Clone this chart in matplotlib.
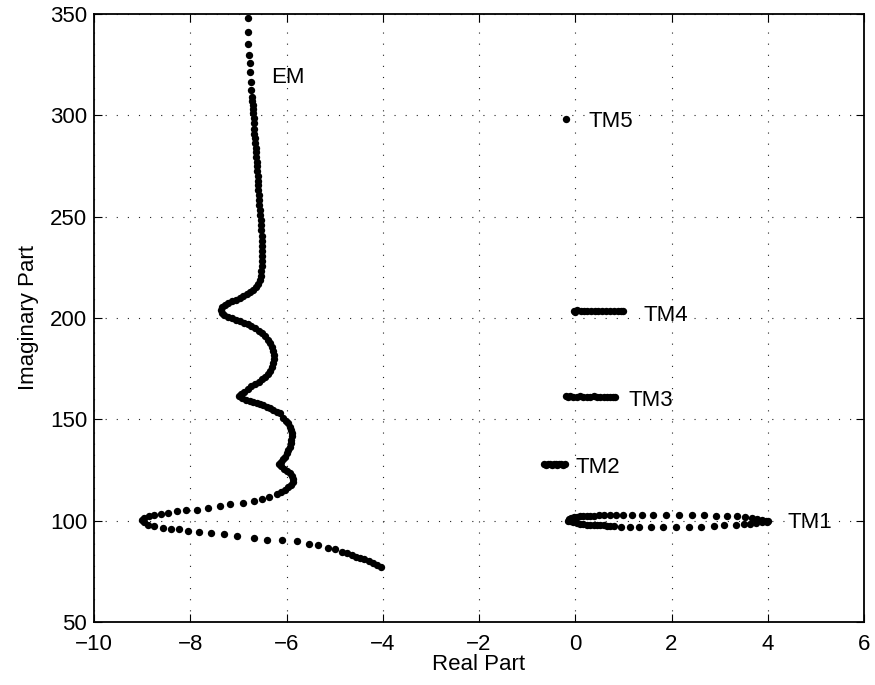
import matplotlib
matplotlib.use("Agg")
import matplotlib.pyplot as plt

plt.rcParams['font.family'] = ['Liberation Sans', 'DejaVu Sans']

# EM mode trajectory (real part, imaginary part)
em_re = [
    -4.04, -4.12, -4.21, -4.29, -4.40, -4.47, -4.55, -4.64, -4.75, -4.85,
    -4.99, -5.13, -5.35, -5.54, -5.79, -6.09, -6.40, -6.68, -7.02, -7.30,
    -7.57, -7.82, -8.05, -8.23, -8.41, -8.57, -8.75, -8.87, -8.97, -9.00,
    -8.96, -8.86, -8.75, -8.61, -8.46, -8.27, -8.09, -7.87, -7.64, -7.39,
    -7.17, -6.90, -6.68, -6.51, -6.36, -6.20, -6.11, -6.03, -5.96, -5.90,
    -5.87, -5.86, -5.88, -5.93, -5.99, -6.06, -6.12, -6.15, -6.12, -6.07,
    -6.03, -5.99, -5.96, -5.93, -5.91, -5.90, -5.89, -5.89, -5.90, -5.92,
    -5.96, -6.01, -6.07, -6.13, -6.20, -6.28, -6.35, -6.41, -6.48, -6.55,
    -6.62, -6.69, -6.76, -6.84, -6.92, -6.99, -6.95, -6.88, -6.81, -6.74,
    -6.66, -6.58, -6.50, -6.44, -6.39, -6.34, -6.31, -6.28, -6.27, -6.27,
    -6.28, -6.30, -6.34, -6.39, -6.44, -6.50, -6.57, -6.65, -6.73, -6.81,
    -6.89, -6.97, -7.05, -7.13, -7.21, -7.29, -7.35, -7.37, -7.34, -7.28,
    -7.21, -7.13, -7.05, -6.97, -6.90, -6.82, -6.75, -6.69, -6.64, -6.60,
    -6.56, -6.54, -6.52, -6.51, -6.51, -6.51, -6.51, -6.51, -6.51, -6.51,
    -6.52, -6.53, -6.53, -6.55, -6.55, -6.57, -6.58, -6.58, -6.59, -6.59,
    -6.60, -6.60, -6.61, -6.62, -6.62, -6.63, -6.64, -6.64, -6.65, -6.66,
    -6.67, -6.68, -6.68, -6.68, -6.69, -6.70, -6.70, -6.71, -6.72, -6.73,
    -6.73, -6.76, -6.76, -6.77, -6.80, -6.80, -6.80,
]
em_im = [
    77.0, 78.1, 79.3, 80.3, 81.2, 81.7, 81.9, 83.1, 83.9, 84.7,
    85.9, 86.7, 87.8, 88.6, 89.8, 90.5, 90.5, 91.3, 92.3, 93.3,
    94.1, 94.2, 94.9, 95.7, 95.7, 96.5, 97.4, 98.0, 99.5, 100.3,
    101.3, 102.3, 102.9, 103.1, 103.9, 104.6, 105.4, 105.4, 106.2, 107.2,
    108.1, 108.9, 109.7, 110.5, 111.5, 113.3, 114.3, 115.1, 116.4, 117.7,
    119.2, 120.5, 122.0, 123.3, 124.5, 125.7, 126.9, 127.9, 129.0, 130.3,
    131.6, 133.2, 134.8, 136.5, 138.3, 140.0, 141.6, 143.1, 144.7, 146.3,
    148.0, 149.4, 150.8, 153.0, 153.8, 154.6, 155.4, 156.2, 156.9, 157.6,
    158.2, 158.7, 159.2, 159.7, 160.3, 161.3, 162.5, 163.7, 165.0, 166.3,
    167.5, 168.6, 169.7, 170.8, 172.3, 174.0, 175.9, 177.9, 179.9, 181.9,
    183.8, 185.7, 187.5, 189.3, 191.0, 192.5, 193.8, 194.9, 195.9, 196.8,
    197.6, 198.4, 199.1, 199.8, 200.6, 201.5, 202.6, 203.9, 205.2, 206.4,
    207.3, 208.2, 209.0, 209.9, 210.8, 211.8, 212.9, 214.0, 215.3, 216.8,
    218.7, 220.8, 223.2, 225.7, 228.2, 230.7, 233.2, 235.7, 238.2, 240.7,
    243.2, 245.7, 248.3, 250.8, 253.3, 255.8, 258.3, 260.8, 263.3, 265.5,
    267.8, 270.2, 272.5, 274.8, 277.1, 279.4, 281.7, 284.0, 286.3, 288.6,
    291.0, 293.5, 296.0, 298.5, 301.0, 303.2, 305.1, 307.2, 309.2, 312.5,
    316.5, 321.2, 325.6, 329.7, 335.0, 340.9, 347.8,
]

# TM1 loop
tm1_re = [
    -0.15, -0.12, -0.08, -0.03, 0.03, 0.10, 0.17, 0.24, 0.31, 0.39,
    0.49, 0.60, 0.73, 0.85, 0.99, 1.18, 1.39, 1.61, 1.89, 2.16,
    2.43, 2.67, 2.92, 3.15, 3.36, 3.53, 3.67, 3.78, 3.88, 3.97, 4.00,
    3.99, 3.88, 3.76, 3.64, 3.50, 3.33, 3.10, 2.88, 2.61, 2.36,
    2.09, 1.82, 1.57, 1.32, 1.13, 0.95, 0.80, 0.73, 0.66, 0.59,
    0.52, 0.45, 0.38, 0.31, 0.24, 0.17, 0.10, 0.03, -0.04, -0.10,
]
tm1_im = [
    100.0, 100.6, 101.2, 101.6, 101.9, 102.1, 102.2, 102.3, 102.4, 102.5,
    102.6, 102.6, 102.6, 102.6, 102.6, 102.6, 102.6, 102.6, 102.6, 102.6,
    102.6, 102.6, 102.5, 102.5, 102.3, 101.7, 101.2, 100.8, 100.3, 99.8, 99.6,
    99.4, 99.1, 98.9, 98.6, 98.3, 98.1, 98.0, 97.3, 97.1, 97.0,
    97.0, 97.0, 97.0, 97.0, 97.0, 97.1, 97.3, 97.5, 97.6, 97.7,
    97.8, 97.9, 98.0, 98.0, 98.1, 98.3, 98.5, 98.8, 99.2, 99.6,
]

# TM2 .. TM5
tm2_re = [-0.65, -0.61, -0.57, -0.53, -0.49, -0.45, -0.41, -0.37, -0.33, -0.29, -0.25, -0.21]
tm2_im = [127.9, 127.7, 127.9, 127.8, 127.6, 127.8, 127.9, 127.7, 127.8, 127.8, 127.7, 127.8]

tm3_re = [-0.19, -0.15, -0.10, -0.04, 0.03, 0.10, 0.17, 0.24, 0.31, 0.38,
          0.45, 0.52, 0.59, 0.66, 0.73, 0.79, 0.83]
tm3_im = [161.4, 161.0, 161.3, 161.1, 161.2, 161.3, 161.1, 161.2, 161.2, 161.3,
          161.1, 161.2, 161.2, 161.1, 161.2, 161.2, 161.2]

tm4_re = [-0.03, 0.00, 0.04, 0.11, 0.18, 0.25, 0.32, 0.40, 0.48, 0.56,
          0.64, 0.72, 0.80, 0.88, 0.95, 1.00]
tm4_im = [203.6, 203.2, 203.8, 203.4, 203.6, 203.3, 203.5, 203.5, 203.4, 203.6,
          203.4, 203.5, 203.5, 203.4, 203.5, 203.5]

tm5_re = [-0.19]
tm5_im = [298.0]

# Mode labels and their anchor points
label_text = ['EM', 'TM5', 'TM4', 'TM3', 'TM2', 'TM1']
label_x = [-6.31, 0.28, 1.42, 1.11, 0.00, 4.40]
label_y = [318.5, 297.0, 201.1, 159.4, 126.1, 98.9]

x_ticks = [-10, -8, -6, -4, -2, 0, 2, 4, 6]
y_ticks = [50, 100, 150, 200, 250, 300, 350]

fig = plt.figure(figsize=(8.75, 6.85), dpi=100)
ax = fig.add_axes([94 / 875, 1 - 622 / 685, 770 / 875, 608 / 685])

dot = dict(linestyle='none', marker='o', markersize=5.3, color='black',
           markeredgewidth=0)
for re, im in [(em_re, em_im), (tm1_re, tm1_im), (tm2_re, tm2_im),
               (tm3_re, tm3_im), (tm4_re, tm4_im), (tm5_re, tm5_im)]:
    ax.plot(re, im, **dot)

fs = 16
for t, x, y in zip(label_text, label_x, label_y):
    ax.text(x, y, t, ha='left', va='center', fontsize=fs)

ax.set_xlim(-10, 6)
ax.set_ylim(50, 350)
ax.set_xticks(x_ticks)
ax.set_yticks(y_ticks)
ax.grid(True, color='#222222', linestyle=(0, (1, 9)), linewidth=0.8)
ax.set_axisbelow(True)
ax.tick_params(direction='in', length=5.5, width=0.8, labelsize=fs,
               top=True, right=True)
ax.tick_params(axis='y', pad=5)
ax.tick_params(axis='x', pad=9)
for s in ax.spines.values():
    s.set_linewidth(1.3)

ax.set_xlabel('Real Part', fontsize=fs, labelpad=-1)
ax.set_ylabel('Imaginary Part', fontsize=fs, labelpad=8)

fig.savefig('out.png', dpi=100)
